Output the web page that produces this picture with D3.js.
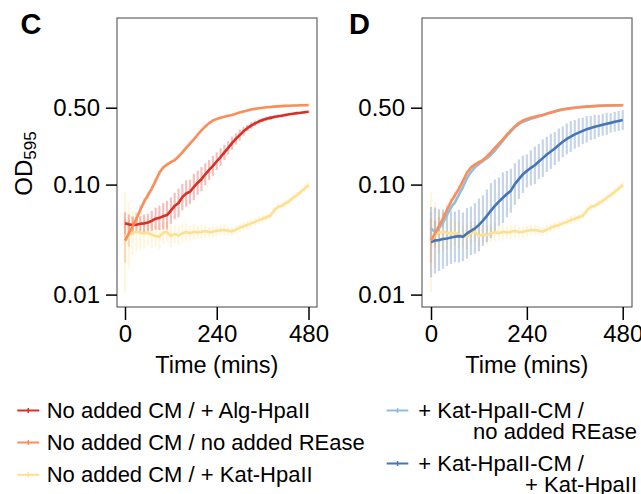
<!DOCTYPE html>
<html><head><meta charset="utf-8">
<script src="https://cdn.jsdelivr.net/npm/d3@7"></script>
<style>
body{margin:0;background:#fff}
svg{display:block}
text{font-family:"Liberation Sans",Arial,Helvetica,sans-serif;fill:#000}
</style>
</head><body>
<svg id="chart" width="641" height="494"></svg>
<script>
// ---------- DATA ----------
const times = [0,10,20,30,40,50,60,70,80,90,100,110,120,130,140,150,160,170,180,190,200,210,220,230,240,250,260,270,280,290,300,310,320,330,340,350,360,370,380,390,400,410,420,430,440,450,460,470,480];
const xTicks = [0,240,480];
const yTicks = [0.01,0.10,0.50];
const yTickLabels = ["0.01","0.10","0.50"];

// No added CM / + Alg-HpaII (panel C)
const algHpaII = [0.0444,0.0435,0.0428,0.0432,0.0440,0.0444,0.0452,0.0468,0.0490,0.0498,0.0515,0.0528,0.0580,0.0640,0.0680,0.0770,0.0830,0.0860,0.0950,0.104,0.112,0.124,0.136,0.148,0.163,0.178,0.196,0.216,0.238,0.260,0.282,0.305,0.326,0.344,0.360,0.374,0.386,0.396,0.404,0.412,0.418,0.423,0.430,0.436,0.441,0.446,0.450,0.455,0.459];
const algHpaIIErr = [0.10,0.09,0.08,0.07,0.07,0.08,0.08,0.09,0.10,0.11,0.12,0.13,0.12,0.12,0.13,0.12,0.12,0.11,0.12,0.11,0.11,0.10,0.09,0.09,0.08,0.08,0.07,0.06,0.06,0.05,0.05,0.04,0.03,0.03,0.025,0.02,0.02,0.02,0.02,0.015,0.015,0.015,0.015,0.012,0.012,0.012,0.012,0.012,0.012];

// No added CM / no added REase (panels C and D)
const noREase = [0.031,0.036,0.042,0.049,0.059,0.070,0.080,0.092,0.108,0.128,0.143,0.152,0.160,0.167,0.180,0.196,0.216,0.236,0.258,0.284,0.311,0.338,0.362,0.382,0.394,0.405,0.414,0.422,0.430,0.440,0.452,0.462,0.472,0.481,0.488,0.494,0.500,0.504,0.508,0.511,0.514,0.517,0.519,0.521,0.523,0.524,0.526,0.527,0.528];
const noREaseErr = [0.20,0.12,0.08,0.05,0.04,0.03,0.03,0.025,0.02,0.02,0.02,0.018,0.015,0.015,0.015,0.015,0.015,0.012,0.012,0.012,0.012,0.012,0.01,0.01,0.01,0.01,0.01,0.01,0.01,0.01,0.01,0.01,0.01,0.008,0.008,0.008,0.008,0.008,0.008,0.008,0.008,0.008,0.008,0.008,0.008,0.008,0.008,0.008,0.008];

// No added CM / + Kat-HpaII (panels C and D)
const katHpaII = [0.030,0.035,0.0365,0.0372,0.0365,0.0360,0.0365,0.0350,0.0340,0.0335,0.0365,0.0372,0.0340,0.0355,0.0345,0.0360,0.0370,0.0362,0.0372,0.0368,0.0372,0.0378,0.0370,0.0372,0.0380,0.0384,0.0386,0.0380,0.0375,0.0390,0.0405,0.0418,0.0430,0.0444,0.0458,0.0475,0.0490,0.0505,0.0520,0.0580,0.0628,0.0640,0.0674,0.0710,0.0760,0.0800,0.0860,0.0920,0.0990];
const katHpaIIErr = [0.45,0.30,0.20,0.18,0.15,0.14,0.12,0.12,0.10,0.11,0.10,0.09,0.10,0.08,0.09,0.08,0.08,0.07,0.07,0.06,0.06,0.06,0.05,0.05,0.05,0.05,0.05,0.04,0.04,0.04,0.04,0.04,0.04,0.035,0.035,0.035,0.035,0.03,0.03,0.03,0.03,0.03,0.03,0.03,0.03,0.03,0.03,0.03,0.03];

// + Kat-HpaII-CM / no added REase (panel D)
const katCMnoREase = [0.040,0.037,0.040,0.045,0.053,0.062,0.069,0.081,0.095,0.114,0.130,0.144,0.154,0.164,0.174,0.186,0.204,0.226,0.250,0.278,0.305,0.333,0.356,0.372,0.384,0.396,0.406,0.418,0.428,0.440,0.452,0.464,0.476,0.484,0.490,0.496,0.500,0.505,0.509,0.513,0.516,0.518,0.520,0.522,0.523,0.524,0.525,0.526,0.527];
const katCMnoREaseErr = [0.15,0.10,0.06,0.04,0.03,0.03,0.025,0.02,0.02,0.02,0.015,0.015,0.015,0.015,0.015,0.015,0.015,0.015,0.015,0.015,0.012,0.012,0.012,0.012,0.012,0.012,0.012,0.012,0.012,0.012,0.01,0.01,0.01,0.01,0.01,0.01,0.01,0.01,0.01,0.01,0.01,0.01,0.01,0.01,0.01,0.01,0.01,0.01,0.01];

// + Kat-HpaII-CM / + Kat-HpaII (panel D)
const katCMkatHpaII = [0.030,0.031,0.0313,0.032,0.0324,0.0330,0.0335,0.0340,0.0335,0.0360,0.0380,0.0400,0.0430,0.0470,0.0520,0.0580,0.0640,0.0700,0.0760,0.0820,0.0880,0.1010,0.1120,0.1240,0.1330,0.1420,0.1500,0.1620,0.1740,0.1880,0.2000,0.2130,0.2290,0.2450,0.2600,0.2730,0.2860,0.2970,0.3080,0.3180,0.3270,0.3350,0.3420,0.3500,0.3570,0.3640,0.3720,0.3790,0.3860];
const katCMkatHpaIIErr = [0.32,0.30,0.28,0.27,0.25,0.24,0.23,0.24,0.22,0.23,0.22,0.23,0.24,0.23,0.24,0.25,0.24,0.22,0.23,0.21,0.20,0.19,0.18,0.17,0.15,0.16,0.17,0.16,0.17,0.16,0.16,0.15,0.15,0.14,0.14,0.14,0.13,0.13,0.12,0.12,0.11,0.11,0.10,0.10,0.10,0.09,0.09,0.09,0.09];

const colRed = "#d73027", colOrange = "#fc8d59", colYellow = "#fee090", colLightBlue = "#91bfdb", colDarkBlue = "#4575b4";

const sRed = {name:"No added CM / + Alg-HpaII", values:algHpaII, err:algHpaIIErr, color:colRed};
const sOrange = {name:"No added CM / no added REase", values:noREase, err:noREaseErr, color:colOrange};
const sYellow = {name:"No added CM / + Kat-HpaII", values:katHpaII, err:katHpaIIErr, color:colYellow};
const sLightBlue = {name:["+ Kat-HpaII-CM /","no added REase"], values:katCMnoREase, err:katCMnoREaseErr, color:colLightBlue};
const sDarkBlue = {name:["+ Kat-HpaII-CM /","+ Kat-HpaII"], values:katCMkatHpaII, err:katCMkatHpaIIErr, color:colDarkBlue};

// ---------- DRAW ----------
const svg = d3.select("#chart");
const FONT = '"Liberation Sans",Arial,Helvetica,sans-serif';

function panel(cfg){
  const g = svg.append("g");
  const x = d3.scaleLinear().domain([0,480]).range(cfg.xr);
  const y = d3.scaleLog().domain([0.01,0.5]).range([294.6,107.7]);
  const top = 18, bottom = 307;
  const clipId = "clip"+cfg.label;
  svg.append("clipPath").attr("id",clipId).append("rect")
    .attr("x",cfg.box[0]).attr("y",top).attr("width",cfg.box[1]-cfg.box[0]).attr("height",bottom-top);
  const plot = g.append("g").attr("clip-path","url(#"+clipId+")");
  // error bars
  cfg.series.forEach(s=>{
    plot.append("g").selectAll("line").data(times).join("line")
      .attr("x1",(t)=>x(t)).attr("x2",(t)=>x(t))
      .attr("y1",(t,i)=>y(s.values[i]*Math.pow(10,s.err[i])))
      .attr("y2",(t,i)=>y(s.values[i]/Math.pow(10,s.err[i])))
      .attr("stroke",s.color).attr("stroke-width",2.2).attr("stroke-opacity",0.3);
  });
  // lines
  const line = d3.line().x(d=>x(d[0])).y(d=>y(d[1]));
  cfg.series.forEach(s=>{
    plot.append("path").datum(times.map((t,i)=>[t,s.values[i]]))
      .attr("d",line).attr("fill","none").attr("stroke",s.color)
      .attr("stroke-width",2.6).attr("stroke-linejoin","round");
  });
  // frame
  g.append("rect").attr("x",cfg.box[0]).attr("y",top).attr("width",cfg.box[1]-cfg.box[0]).attr("height",bottom-top)
    .attr("fill","none").attr("stroke","#555").attr("stroke-width",1.1);
  // x axis
  const xa = g.append("g").attr("transform",`translate(0,${bottom})`)
    .call(d3.axisBottom(x).tickValues(xTicks).tickSize(13).tickPadding(5).tickFormat(d3.format("d")));
  xa.select(".domain").remove();
  xa.selectAll("line").attr("stroke","#000").attr("stroke-width",1.5);
  xa.selectAll("text").attr("font-size",24).attr("font-family",FONT).attr("fill","#000");
  // y axis
  const ya = g.append("g").attr("transform",`translate(${cfg.box[0]},0)`)
    .call(d3.axisLeft(y).tickValues(yTicks).tickSize(11).tickPadding(6).tickFormat((d,i)=>yTickLabels[i]));
  ya.select(".domain").remove();
  ya.selectAll("line").attr("stroke","#000").attr("stroke-width",1.5);
  ya.selectAll("text").attr("font-size",24).attr("font-family",FONT).attr("fill","#000");
  // x title
  g.append("text").attr("x",x(240)).attr("y",373).attr("text-anchor","middle")
    .attr("font-size",23.5).text("Time (mins)");
  // panel label
  g.append("text").attr("x",cfg.labelX).attr("y",33.5).attr("font-size",29).attr("font-weight","bold").text(cfg.label);
}

panel({label:"C", labelX:20.5, box:[117,317], xr:[125,308.5], series:[sYellow,sRed,sOrange]});
panel({label:"D", labelX:349, box:[422,632], xr:[431,622.7], series:[sYellow,sDarkBlue,sLightBlue,sOrange]});

// y title
const yt = svg.append("text").attr("transform","translate(31.5,163.5) rotate(-90)").attr("text-anchor","middle").attr("font-size",24);
yt.append("tspan").text("OD");
yt.append("tspan").attr("font-size",17).attr("dy","0.28em").text("595");

// legend
function legendKey(x0,x1,yy,color){
  svg.append("line").attr("x1",x0).attr("x2",x1).attr("y1",yy).attr("y2",yy).attr("stroke",color).attr("stroke-width",2);
  svg.append("line").attr("x1",(x0+x1)/2).attr("x2",(x0+x1)/2).attr("y1",yy-2.5).attr("y2",yy+2.5).attr("stroke",color).attr("stroke-width",1.5);
}
const leftRows = [sRed,sOrange,sYellow];
const leftBase = [418,450,482.3];
leftRows.forEach((s,i)=>{
  legendKey(17.3,39.3,leftBase[i]-7.5,s.color);
  svg.append("text").attr("x",46.7).attr("y",leftBase[i]).attr("font-size",22).text(s.name);
});
const rightRows = [sLightBlue,sDarkBlue];
const rightBase = [418,471];
rightRows.forEach((s,i)=>{
  legendKey(386.7,408.3,rightBase[i]-7.5,s.color);
  svg.append("text").attr("x",418.3).attr("y",rightBase[i]).attr("font-size",22).text(s.name[0]);
  svg.append("text").attr("x",637).attr("y",rightBase[i]+21).attr("text-anchor","end").attr("font-size",22).text(s.name[1]);
});
</script>
</body></html>
